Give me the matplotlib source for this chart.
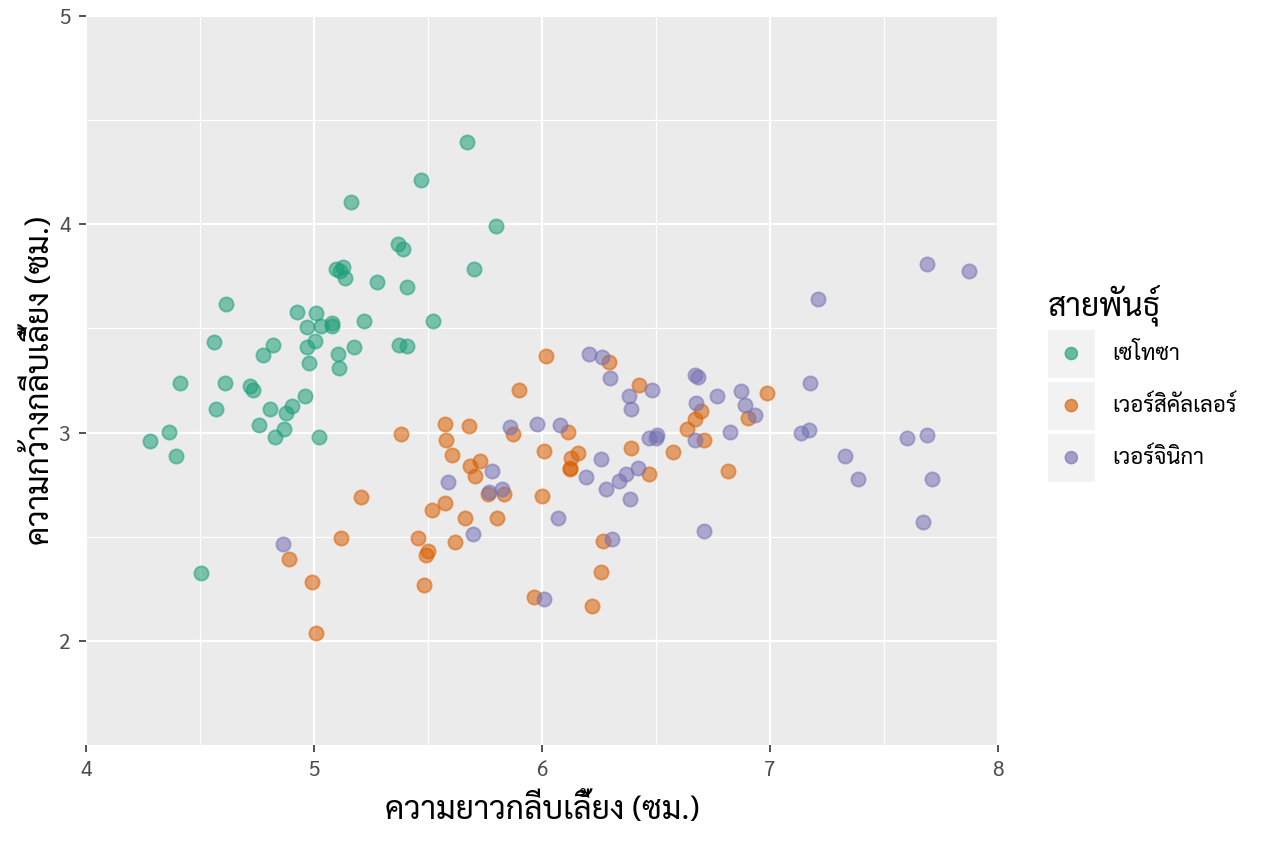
import matplotlib
matplotlib.use('Agg')
import matplotlib.pyplot as plt
from matplotlib import font_manager
from matplotlib.lines import Line2D
from matplotlib.patches import Rectangle, Circle
from matplotlib.legend_handler import HandlerBase
from matplotlib.ticker import MultipleLocator

# sepal length / width (jittered)
setosa_x = [4.281, 4.364, 4.395, 4.412, 4.504, 4.561, 4.570, 4.610, 4.614, 4.719,
            4.732, 4.759, 4.776, 4.807, 4.820, 4.829, 4.868, 4.877, 4.904, 4.925,
            4.961, 4.969, 4.969, 4.978, 5.004, 5.009, 5.022, 5.031, 5.079, 5.079,
            5.096, 5.114, 5.127, 5.136, 5.105, 5.110, 5.162, 5.175, 5.219, 5.276,
            5.368, 5.390, 5.373, 5.408, 5.408, 5.469, 5.522, 5.671, 5.702, 5.798]
setosa_y = [2.958, 3.002, 2.887, 3.236, 2.326, 3.433, 3.112, 3.236, 3.615, 3.222,
            3.203, 3.035, 3.371, 3.112, 3.419, 2.978, 3.016, 3.093, 3.126, 3.581,
            3.174, 3.505, 3.409, 3.332, 3.438, 3.572, 2.978, 3.510, 3.524, 3.510,
            3.783, 3.778, 3.797, 3.740, 3.375, 3.308, 4.109, 3.409, 3.538, 3.725,
            3.903, 3.883, 3.419, 3.414, 3.697, 4.214, 3.534, 4.396, 3.783, 3.994]

versicolor_x = [4.890, 4.991, 5.009, 5.118, 5.206, 5.382, 5.456, 5.482, 5.491, 5.500,
                5.518, 5.575, 5.575, 5.579, 5.605, 5.618, 5.662, 5.680, 5.684, 5.706,
                5.728, 5.763, 5.803, 5.833, 5.873, 5.899, 5.965, 6.000, 6.009, 6.018,
                6.114, 6.123, 6.158, 6.127, 6.123, 6.219, 6.259, 6.268, 6.294, 6.390,
                6.425, 6.469, 6.575, 6.636, 6.671, 6.697, 6.711, 6.816, 6.904, 6.987]
versicolor_y = [2.393, 2.283, 2.038, 2.494, 2.690, 2.992, 2.494, 2.268, 2.412, 2.431,
                2.628, 2.661, 3.040, 2.963, 2.891, 2.474, 2.589, 3.030, 2.839, 2.791,
                2.863, 2.704, 2.589, 2.704, 2.992, 3.203, 2.211, 2.695, 2.911, 3.366,
                3.002, 2.829, 2.901, 2.877, 2.824, 2.168, 2.331, 2.479, 3.337, 2.925,
                3.227, 2.800, 2.906, 3.016, 3.064, 3.102, 2.963, 2.815, 3.069, 3.189]

virginica_x = [4.864, 5.588, 5.697, 5.768, 5.781, 5.825, 5.860, 5.978, 6.009, 6.070,
               6.079, 6.193, 6.206, 6.259, 6.263, 6.281, 6.298, 6.307, 6.338, 6.368,
               6.382, 6.386, 6.390, 6.421, 6.469, 6.482, 6.500, 6.504, 6.671, 6.684,
               6.671, 6.675, 6.711, 6.768, 6.825, 6.873, 6.890, 6.934, 7.136, 7.171,
               7.175, 7.211, 7.329, 7.386, 7.601, 7.671, 7.689, 7.689, 7.711, 7.873]
virginica_y = [2.465, 2.762, 2.513, 2.714, 2.815, 2.728, 3.026, 3.040, 2.201, 2.589,
               3.035, 2.786, 3.375, 2.872, 3.361, 2.728, 3.260, 2.489, 2.767, 2.800,
               3.174, 2.681, 3.112, 2.829, 2.973, 3.203, 2.973, 2.987, 3.275, 3.265,
               2.963, 3.141, 2.527, 3.174, 3.002, 3.198, 3.131, 3.083, 2.997, 3.011,
               3.236, 3.639, 2.887, 2.776, 2.973, 2.570, 3.807, 2.987, 2.776, 3.778]

species = ['เซโทซา', 'เวอร์สิคัลเลอร์', 'เวอร์จินิกา']
colors = ['#1B9E77', '#D95F02', '#7570B3']

# pick an installed Thai font
installed = {f.name for f in font_manager.fontManager.ttflist}
thai_font = 'DejaVu Sans'
for cand in ['Sarabun', 'Noto Sans Thai Looped', 'Noto Sans Thai', 'Anuphan', 'Bai Jamjuree']:
    if cand in installed:
        thai_font = cand
        break
plt.rcParams['font.family'] = [thai_font, 'DejaVu Sans']


class KeyHandler(HandlerBase):
    # ggplot style key: grey square with the point centred in it
    def create_artists(self, legend, orig_handle, xdescent, ydescent,
                       width, height, fontsize, trans):
        c = orig_handle.get_color()
        box = Rectangle((-xdescent, -ydescent), width, height,
                        facecolor='#F2F2F2', edgecolor='none', transform=trans)
        dot = Circle((width / 2 - xdescent, height / 2 - ydescent), 4.4,
                     facecolor=c, edgecolor=c, alpha=0.65, linewidth=1.0,
                     transform=trans)
        return [box, dot]


fig = plt.figure(figsize=(12.64, 8.43), dpi=100)
ax = fig.add_axes([86 / 1264, 1 - 745 / 843, (998 - 86) / 1264, (745 - 16) / 843])
ax.set_facecolor('#EBEBEB')

xs = [setosa_x, versicolor_x, virginica_x]
ys = [setosa_y, versicolor_y, virginica_y]
for x, y, c in zip(xs, ys, colors):
    ax.scatter(x, y, s=105, color=c, alpha=0.55, edgecolors=c, linewidths=1.3, zorder=3)

ax.set_xlim(4, 8)
ax.set_ylim(1.5, 5)
ax.xaxis.set_major_locator(MultipleLocator(1))
ax.xaxis.set_minor_locator(MultipleLocator(0.5))
ax.yaxis.set_major_locator(MultipleLocator(1))
ax.yaxis.set_minor_locator(MultipleLocator(0.5))
ax.grid(which='major', color='white', linewidth=1.6, zorder=0)
ax.grid(which='minor', color='white', linewidth=0.8, zorder=0)
ax.set_axisbelow(True)
for sp in ax.spines.values():
    sp.set_visible(False)
ax.tick_params(which='major', length=5, width=1.2, color='#333333',
               labelsize=15, labelcolor='#4D4D4D', pad=6)
ax.tick_params(which='minor', length=0)

ax.set_xlabel('ความยาวกลีบเลี้ยง (ซม.)', fontsize=23, labelpad=9)
ax.set_ylabel('ความกว้างกลีบเลี้ยง (ซม.)', fontsize=23, labelpad=2)

handles = [Line2D([], [], color=c) for c in colors]
leg = fig.legend(handles, species, title='สายพันธุ์', loc='upper left',
                 handler_map={Line2D: KeyHandler()},
                 bbox_to_anchor=(1048 / 1264, 1 - 284 / 843), frameon=False,
                 fontsize=16, title_fontsize=23, handlelength=2.1, handleheight=2.95,
                 labelspacing=0.18, handletextpad=0.8, borderaxespad=0, borderpad=0)
leg._legend_box.align = 'left'

fig.savefig('out.png', dpi=100)
